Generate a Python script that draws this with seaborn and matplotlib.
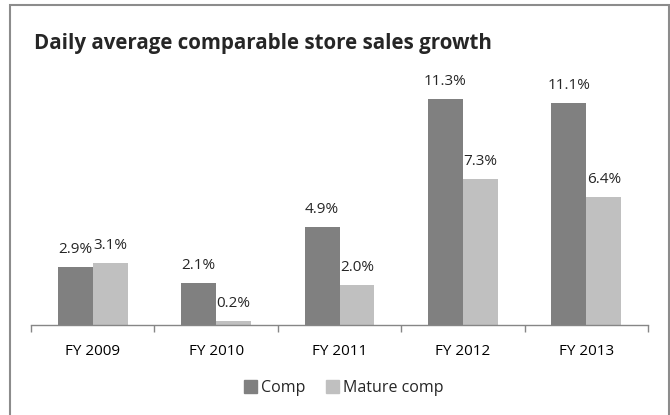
import matplotlib.pyplot as plt
import pandas as pd
import seaborn as sns
from matplotlib.patches import Rectangle

years = ['FY 2009', 'FY 2010', 'FY 2011', 'FY 2012', 'FY 2013']
comp = [2.9, 2.1, 4.9, 11.3, 11.1]
mature_comp = [3.1, 0.2, 2.0, 7.3, 6.4]
series = ['Comp', 'Mature comp']
colors = ['#808080', '#c0c0c0']

df = pd.DataFrame({'year': years, 'Comp': comp, 'Mature comp': mature_comp})
df = df.melt(id_vars='year', var_name='series', value_name='growth')

sns.set_style('white')
plt.rcParams['font.family'] = ['Open Sans', 'DejaVu Sans']

fig = plt.figure(figsize=(6.7, 4.15), dpi=100)
ax = fig.add_axes([31 / 670, 1 - 325 / 415, (648 - 31) / 670, 240 / 415])

sns.barplot(data=df, x='year', y='growth', hue='series', hue_order=series,
            palette=colors, width=0.567, saturation=1, ax=ax, edgecolor='none')

ax.set_ylim(0, 12)
ax.set_xlim(-0.5, len(years) - 0.5)
ax.set(xlabel=None, ylabel=None, yticks=[])
sns.despine(ax=ax, left=True, top=True, right=True)
ax.spines['bottom'].set_color('#868686')
ax.spines['bottom'].set_linewidth(1)
ax.set_xticks([i - 0.5 for i in range(len(years) + 1)], minor=True)
ax.tick_params(axis='x', which='major', length=0, labelsize=11, pad=14, colors='black')
ax.tick_params(axis='x', which='minor', length=5, width=1, color='#868686', direction='out', bottom=True)

for container in ax.containers:
    ax.bar_label(container, fmt='%.1f%%', padding=7, fontsize=11)

ax.legend_.remove()
handles = [Rectangle((0, 0), 1, 1, color=c) for c in colors]
fig.legend(handles, series, loc='center', bbox_to_anchor=(344 / 670, 1 - 388 / 415), ncol=2,
           frameon=False, fontsize=11.5, handlelength=0.8, handleheight=0.8, handletextpad=0.25,
           columnspacing=1.3)

fig.text(34 / 670, 1 - 43 / 415, 'Daily average comparable store sales growth',
         fontsize=14.8, fontweight='bold', va='center', ha='left')

frame = Rectangle((10 / 670, -0.05), 659 / 670, 1.05 - 5 / 415, transform=fig.transFigure,
                  fill=False, edgecolor='#8c8c8c', linewidth=1.5)
fig.patches.append(frame)

fig.savefig('out.png', dpi=100)
